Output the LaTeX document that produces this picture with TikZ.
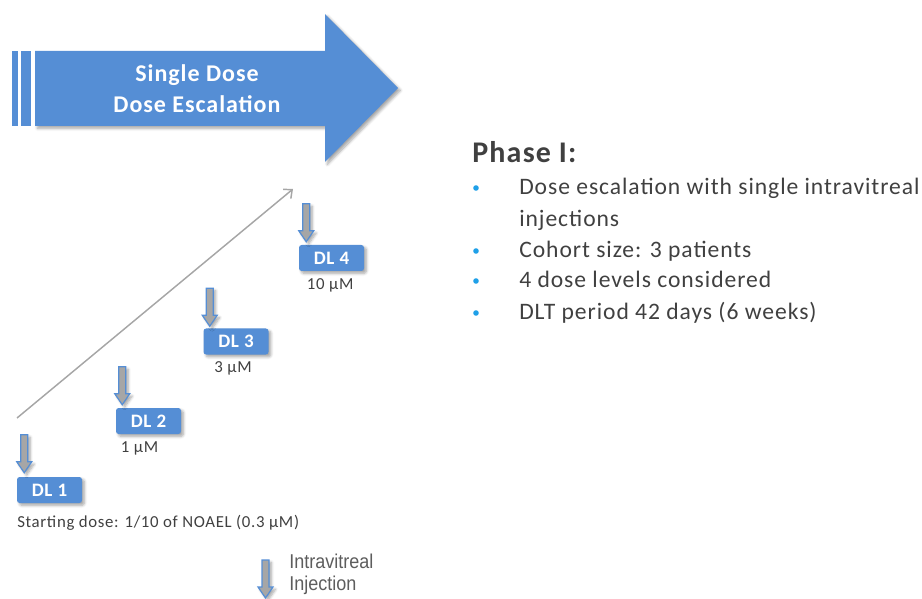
\documentclass[tikz,border=0pt]{standalone}
\usepackage{fontspec}
\setmainfont{Carlito}[LetterSpace=4]
\newfontfamily\injfont{Liberation Sans}[FakeStretch=0.9]
\usepackage{tikz}
\usetikzlibrary{positioning,arrows.meta,calc,shadows.blur}
\definecolor{escblue}{HTML}{558ED5}
\definecolor{injgray}{HTML}{A6A6A6}
\definecolor{textgray}{HTML}{404040}
\definecolor{dotblue}{HTML}{1FA0E8}
\definecolor{trendgray}{HTML}{A6A6A6}
\tikzset{
  softshadow/.style={blur shadow={shadow xshift=1.8pt,shadow yshift=-1.8pt,shadow blur steps=6,shadow blur radius=2pt,shadow opacity=35}},
  banner/.style={fill=escblue,softshadow},
  title/.style={text=white,align=center,font=\fontsize{18}{23.25}\selectfont\bfseries},
  dlbox/.style={rounded corners=2pt,fill=escblue,softshadow,text=white,minimum width=48.75pt,minimum height=19.5pt,inner sep=0pt,font=\fontsize{14.25}{16}\selectfont\bfseries},
  dose/.style={text=textgray,inner sep=0pt,font=\fontsize{12.6}{14}\selectfont},
  injection/.style={draw=escblue,line width=0.9pt,fill=injgray,softshadow},
  injarrow/.pic={\path[injection] (-3.5,-38) -- (3.5,-38) -- (3.5,-11) -- (7.5,-11) -- (0,0) -- (-7.5,-11) -- (-3.5,-11) -- cycle;},
  trend/.style={-{Straight Barb[length=5pt,width=9pt]},draw=trendgray,line width=1.1pt},
  phase/.style={text=textgray,inner sep=0pt,font=\fontsize{22.5}{26}\selectfont\bfseries},
  item/.style={text=textgray,inner sep=0pt,font=\fontsize{17.7}{23.25}\selectfont},
  dot/.style={circle,fill=dotblue,inner sep=0pt,minimum size=4.2pt},
  legend/.style={text=textgray!85,inner sep=0pt,align=left,font=\injfont\fontsize{15}{16.5}\selectfont}
}

\begin{document}
\begin{tikzpicture}[x=0.75pt,y=-0.75pt]
  \useasboundingbox (0,0) rectangle (922,599);
  % escalation banner
  \fill[escblue] (12,51) rectangle (18,126);
  \fill[escblue] (21,51) rectangle (31,126);
  \path[banner] (35,51) -- (325,51) -- (325,14) -- (398,88) -- (325,162) -- (325,126) -- (35,126) -- cycle;
  \node[title] (title) at (197,89) {Single Dose\\Dose Escalation};
  % dose levels
  \node[dlbox] (dl1) at (49.5,490) {DL 1};
  \node[dlbox] (dl2) at (148.5,421) {DL 2};
  \node[dlbox] (dl3) at (236,341.5) {DL 3};
  \node[dlbox] (dl4) at (331.5,258) {DL 4};
  \pic at ($(dl1.north west)+(7.5,-4)$) {injarrow};
  \pic at ($(dl2.north west)+(6.5,-3)$) {injarrow};
  \pic at ($(dl3.north west)+(6.5,-2)$) {injarrow};
  \pic at ($(dl4.north west)+(7.5,-3)$) {injarrow};
  \node[dose,below=5pt of dl2,xshift=-6.75pt] (c2) {1 µM};
  \node[dose,below=5pt of dl3,xshift=-2.25pt] (c3) {3 µM};
  \node[dose,below=5pt of dl4,xshift=-1pt] (c4) {10 µM};
  \node[dose,anchor=base west] (start) at (17,527) {Starting dose: 1/10 of NOAEL (0.3 µM)};
  % trend
  \coordinate (lowend) at (17,418);
  \coordinate (highend) at (293,189);
  \draw[trend] (lowend) -- (highend);
  % legend
  \pic at (265.5,598) {injarrow};
  \node[legend,anchor=north west] (inj) at (289,554) {Intravitreal\\Injection};
  % phase I summary
  \node[phase,anchor=base west] (phase) at (472,163) {Phase I:};
  \node[item,anchor=base west] (i1) at (519,195) {Dose escalation with single intravitreal};
  \node[item,anchor=base west] (i1b) at (519,227) {injections};
  \node[item,anchor=base west] (i2) at (519,258) {Cohort size: 3 patients};
  \node[item,anchor=base west] (i3) at (519,288) {4 dose levels considered};
  \node[item,anchor=base west] (i4) at (519,320) {DLT period 42 days (6 weeks)};
  \node[dot] (d1) at (476,188) {};
  \node[dot] (d2) at (476,251) {};
  \node[dot] (d3) at (476,281) {};
  \node[dot] (d4) at (476,313) {};
\end{tikzpicture}
\end{document}
